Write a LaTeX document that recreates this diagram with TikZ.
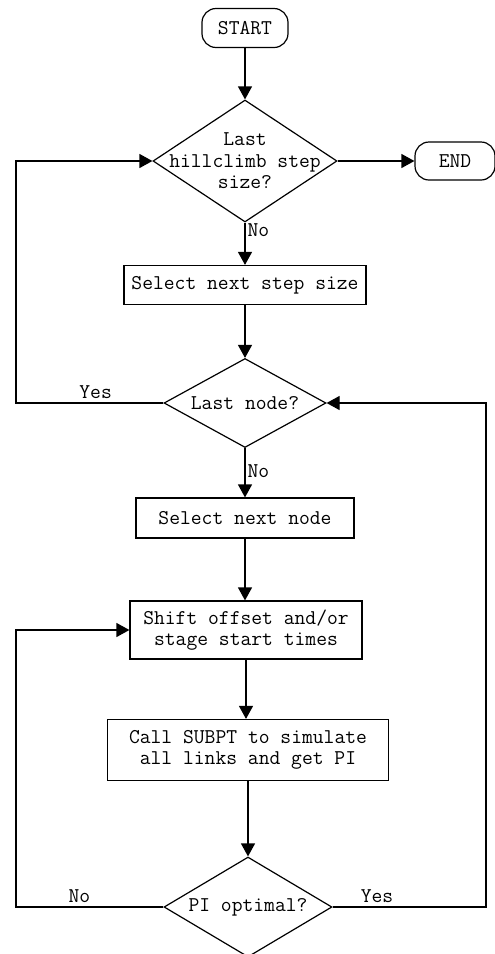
\documentclass[tikz,border=0pt]{standalone}
\usepackage{fontspec}
\usetikzlibrary{shapes.geometric,arrows.meta}

\begin{document}
\begin{tikzpicture}[x=1pt,y=-1pt]
    \tikzstyle{every node}=[font=\ttfamily\fontsize{21}{21.5}\selectfont]
    \tikzstyle{box}=[draw,line width=1.2pt,inner sep=0pt,align=center]
    \tikzstyle{decision}=[draw,diamond,line width=1.2pt,inner sep=0pt]
    \tikzstyle{term}=[draw,line width=1.2pt,rounded corners=14pt,inner sep=0pt]
    \tikzstyle{flow}=[line width=1.2pt,-{Triangle[width=14pt,length=13pt]}]
    \useasboundingbox (0,0) rectangle (495,954);
    \coordinate (leftrail) at (16,0);
    \coordinate (rightrail) at (486,0);
    % main column
    \node[term,minimum width=86pt,minimum height=39pt] (start) at (245,28) {START};
    \node[decision,minimum width=184pt,minimum height=122pt,
      label={[align=center]center:Last\\hillclimb step\\size?}] (lastsize) at (245,161) {};
    \node[term,minimum width=80pt,minimum height=38pt] (end) at (455,161) {END};
    \node[box,minimum width=242pt,minimum height=39pt] (stepsize) at (245,285) {Select next step size};
    \node[decision,minimum width=162pt,minimum height=89pt,
      label={center:Last node?}] (lastnode) at (245,403) {};
    \node[box,minimum width=218pt,minimum height=40pt] (nextnode) at (245,518) {Select next node};
    \node[box,minimum width=232pt,minimum height=58pt] (shift) at (246,630) {Shift offset and/or\\stage start times};
    \node[box,minimum width=281pt,minimum height=61pt] (call) at (248,750) {Call SUBPT to simulate\\all links and get PI};
    \node[decision,minimum width=168pt,minimum height=100pt,
      label={center:PI optimal?}] (optimal) at (248,907) {};
    % connectors
    \draw[flow] (start) -- (lastsize);
    \draw[flow] (lastsize) -- (end);
    \draw[flow] (lastsize) -- node[pos=0.17,anchor=west,inner sep=2pt] {No} (stepsize);
    \draw[flow] (stepsize) -- (lastnode);
    \draw[flow] (lastnode) -- node[pos=0.47,anchor=west,inner sep=2pt] {No} (nextnode);
    \draw[flow] (nextnode) -- (nextnode |- shift.north);
    \draw[flow] (shift) -- (shift |- call.north);
    \draw[flow] (call.south -| optimal) -- (optimal);
    % loops
    \draw[flow] (lastnode.west) -- node[above,pos=0.46] {Yes} (lastnode.west -| leftrail) |- (lastsize.west);
    \draw[flow] (optimal.west) -- node[above,pos=0.57] {No} (optimal.west -| leftrail) |- (shift.west);
    \draw[flow] (optimal.east) -- node[above,pos=0.29] {Yes} (optimal.east -| rightrail) |- (lastnode.east);
\end{tikzpicture}
\end{document}
